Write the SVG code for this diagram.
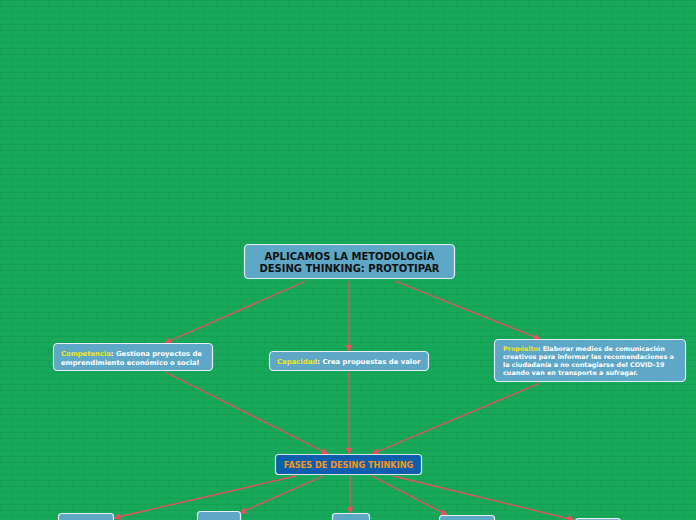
<svg xmlns="http://www.w3.org/2000/svg" width="696" height="520" viewBox="0 0 696 520">
<style>
.box{fill:#5fa7c6;stroke:#e4f0f5;stroke-width:1.2}
.t{font-family:"DejaVu Sans","Verdana",sans-serif;font-weight:bold;fill:#ffffff}
.k{fill:#f5e61c}
.c{fill:none;stroke:#e8515a;stroke-width:1.3;marker-end:url(#ah)}
</style>
<defs>
<pattern id="brick" width="24" height="12" patternUnits="userSpaceOnUse">
<rect width="24" height="12" fill="#17a85a"/>
<path d="M0 0.5H24M0 6.5H24M0.5 0V6M12.5 6V12" stroke="#14a054" stroke-width="1" fill="none"/>
</pattern>
<marker id="ah" viewBox="0 0 10 10" refX="9" refY="5" markerWidth="7" markerHeight="7" markerUnits="userSpaceOnUse" orient="auto">
<path d="M0 0L10 5L0 10z" fill="#e8515a"/>
</marker>
</defs>
<rect width="696" height="520" fill="url(#brick)"/>
<g id="connectors">
<line class="c" x1="306" y1="281" x2="165" y2="343"/>
<line class="c" x1="349" y1="281" x2="349" y2="351"/>
<line class="c" x1="395" y1="281" x2="540" y2="339"/>
<line class="c" x1="165" y1="372" x2="328" y2="454"/>
<line class="c" x1="349" y1="372" x2="349" y2="454"/>
<line class="c" x1="540" y1="383" x2="372" y2="454"/>
<line class="c" x1="296" y1="476" x2="114" y2="518"/>
<line class="c" x1="323" y1="476" x2="240" y2="513"/>
<line class="c" x1="350" y1="476" x2="350" y2="513"/>
<line class="c" x1="372" y1="476" x2="447" y2="515"/>
<line class="c" x1="393" y1="476" x2="574" y2="520"/>
</g>
<g id="main">
<rect class="box" x="244.5" y="244.5" width="210" height="34" rx="4"/>
<text class="t" x="349.5" y="259.5" font-size="10" text-anchor="middle" style="fill:#111">APLICAMOS LA METODOLOGÍA</text>
<text class="t" x="349.5" y="272" font-size="10" text-anchor="middle" style="fill:#111">DESING THINKING: PROTOTIPAR</text>
</g>
<g id="competencia">
<rect class="box" x="53.5" y="343.5" width="159" height="27" rx="4"/>
<text class="t" x="61" y="356" font-size="6.8"><tspan class="k">Competencia</tspan>: Gestiona proyectos de</text>
<text class="t" x="61" y="365" font-size="6.8">emprendimiento económico o social</text>
</g>
<g id="capacidad">
<rect class="box" x="269.5" y="351.5" width="159" height="19" rx="4"/>
<text class="t" x="277" y="364" font-size="6.9"><tspan class="k">Capacidad</tspan>: Crea propuestas de valor</text>
</g>
<g id="proposito">
<rect class="box" x="494.5" y="339.5" width="191" height="42" rx="4"/>
<text class="t" x="503" y="351" font-size="6.45"><tspan class="k">Propósito</tspan>: Elaborar medios de comunicación</text>
<text class="t" x="503" y="359" font-size="6.45">creativos para informar las recomendaciones a</text>
<text class="t" x="503" y="367" font-size="6.45">la ciudadanía a no contagiarse del COVID-19</text>
<text class="t" x="503" y="375" font-size="6.45">cuando van en transporte a sufragar.</text>
</g>
<g id="fases">
<rect x="275.5" y="454.5" width="146" height="20" rx="3" fill="#0d5fae" stroke="#d8e6f0" stroke-width="1.2"/>
<text class="t" x="348.5" y="467.8" font-size="8.2" text-anchor="middle" style="fill:#f7941d">FASES DE DESING THINKING</text>
</g>
<g id="fase1"><rect class="box" x="58.5" y="513.5" width="55" height="20" rx="3"/></g>
<g id="fase2"><rect class="box" x="197.5" y="511.5" width="43" height="20" rx="3"/></g>
<g id="fase3"><rect class="box" x="332.5" y="513.5" width="37" height="20" rx="3"/></g>
<g id="fase4"><rect class="box" x="439.5" y="515.5" width="55" height="20" rx="3"/></g>
<g id="fase5"><rect class="box" x="575.5" y="518.5" width="45" height="20" rx="3" style="fill:#7fb0c4"/></g>
</svg>
